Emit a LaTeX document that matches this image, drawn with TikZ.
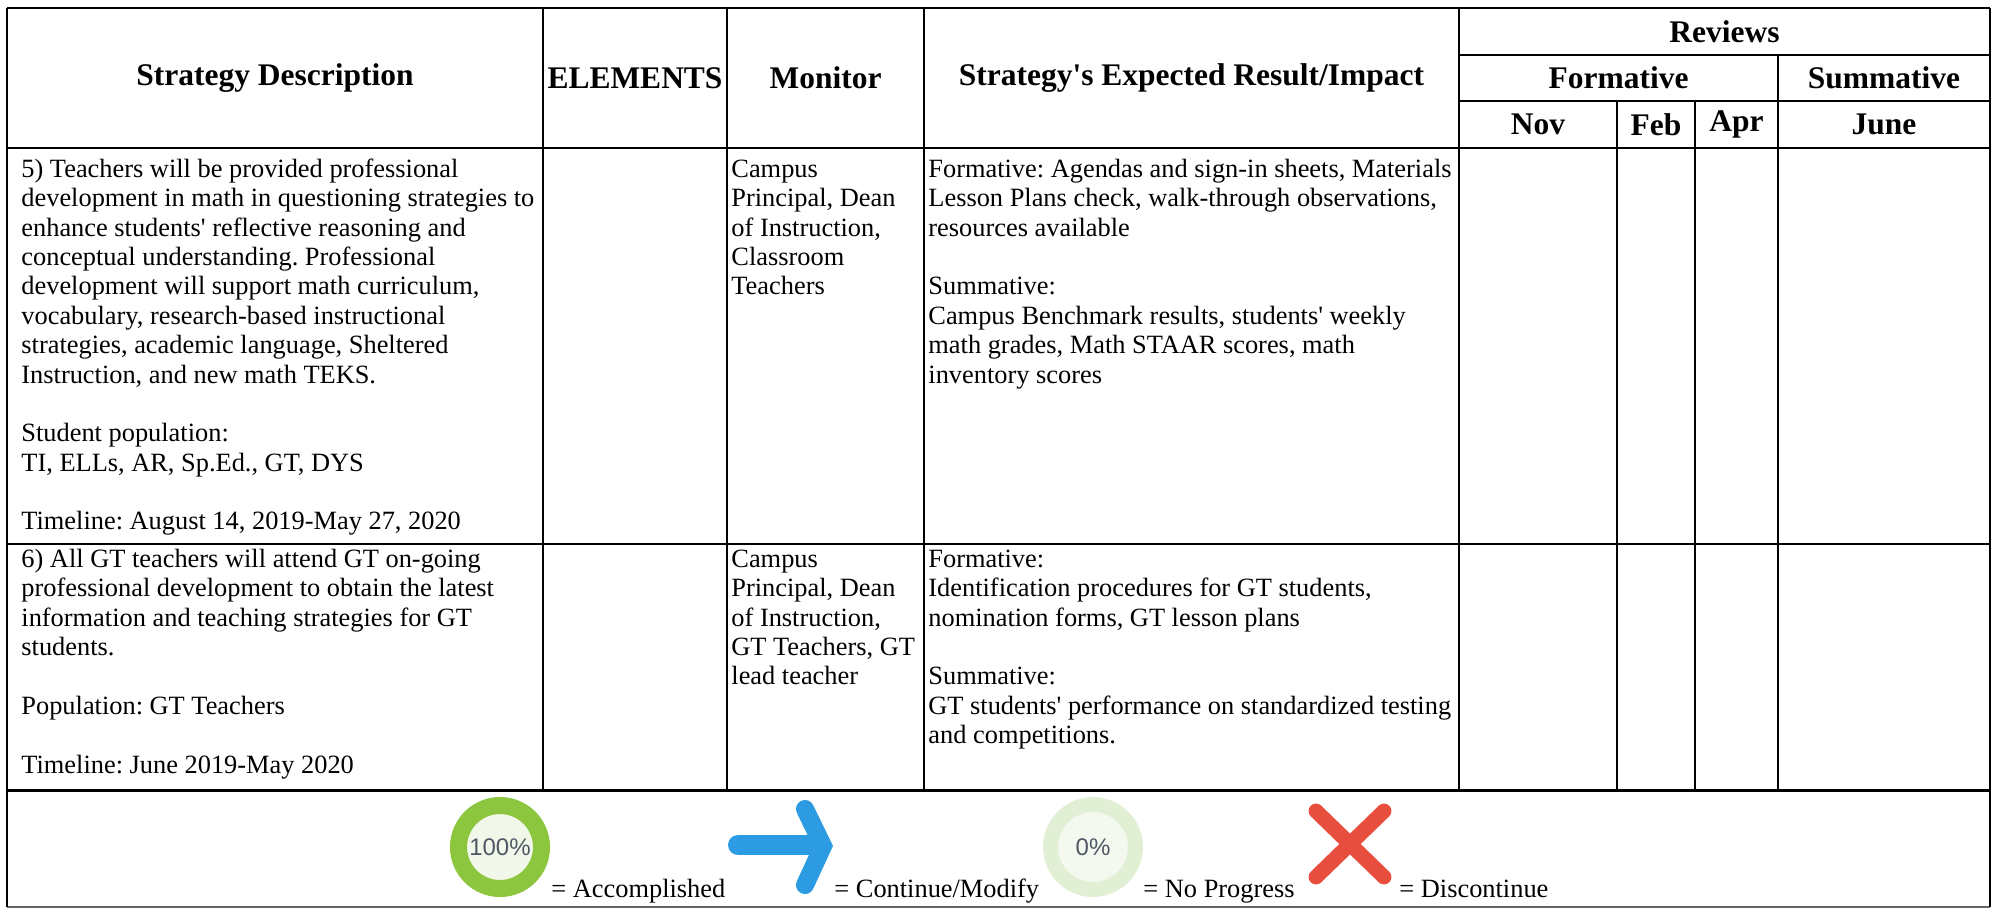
\documentclass[tikz,border=0pt]{standalone}
\usepackage{fontspec}
\setmainfont{Liberation Serif}
\newfontfamily\iconfont{Liberation Sans}
\frenchspacing
\definecolor{donegreen}{HTML}{8CC63F}
\definecolor{donefill}{HTML}{F1F8EA}
\definecolor{noring}{HTML}{E1EFD5}
\definecolor{nofill}{HTML}{F3F9EE}
\definecolor{goblue}{HTML}{2D9BE2}
\definecolor{stopred}{HTML}{E84E3D}
\definecolor{ringtext}{HTML}{505866}
\newcommand{\apos}{\textquotesingle}
\begin{document}
\begin{tikzpicture}[x=0.47pt,y=-0.47pt]

    \tikzset{
      rule/.style={line width=1pt, black},
      headtext/.style={font=\fontsize{14.8}{17}\selectfont\bfseries, anchor=center, inner sep=0pt},
      celltext/.style={font=\fontsize{12.4}{13.8}\selectfont, anchor=north west, align=left, inner sep=0pt},
      keytext/.style={font=\fontsize{12.4}{13.8}\selectfont, anchor=base west, inner sep=0pt},
      ringlabel/.style={font=\iconfont\fontsize{11.3}{13}\selectfont, text=ringtext, inner sep=0pt},
    }
    \useasboundingbox (0,0) rectangle (1995,908);

    % table rules
    \draw[rule] (7,8)--(1990,8);
    \draw[rule] (1459,55)--(1990,55);
    \draw[rule] (1459,101)--(1990,101);
    \draw[rule] (7,148)--(1990,148);
    \draw[rule] (7,544)--(1990,544);
    \draw[line width=1.4pt] (7,790)--(1990,790);
    \draw[line width=1pt, black!60] (7,907)--(1990,907);
    \draw[rule] (7,8)--(7,907);
    \draw[rule] (1990,8)--(1990,907);
    \draw[rule] (543,8)--(543,790);
    \draw[rule] (727,8)--(727,790);
    \draw[rule] (924,8)--(924,790);
    \draw[rule] (1459,8)--(1459,790);
    \draw[rule] (1617,101)--(1617,790);
    \draw[rule] (1695,101)--(1695,790);
    \draw[rule] (1778,55)--(1778,790);

    % header
    \node[headtext] (hdesc) at (275,78) {Strategy Description};
    \node[headtext] (helem) at (635,78) {ELEMENTS};
    \node[headtext] (hmon) at (825.5,78) {Monitor};
    \node[headtext] (himpact) at (1191.5,78) {Strategy\apos s Expected Result/Impact};
    \node[headtext] (hrev) at (1724.5,31.5) {Reviews};
    \node[headtext] (hform) at (1618.5,78) {Formative};
    \node[headtext] (hsumm) at (1884,78) {Summative};
    \node[headtext] (hnov) at (1538,124.5) {Nov};
    \node[headtext] (hfeb) at (1656,124.5) {Feb};
    \node[headtext] (hapr) at (1736.5,124.5) {Apr};
    \node[headtext] (hjune) at (1884,124.5) {June};

    % strategy 5
    \node[celltext] (desc5) at (21,156.5) {\strut 5) Teachers will be provided professional\\
      development in math in questioning strategies to\\
      enhance students\apos\ reflective reasoning and\\
      conceptual understanding. Professional\\
      development will support math curriculum,\\
      vocabulary, research-based instructional\\
      strategies, academic language, Sheltered\\
      Instruction, and new math TEKS.\\[13.8pt]
      Student population:\\
      TI, ELLs, AR, Sp.Ed., GT, DYS\\[13.8pt]
      Timeline: August 14, 2019-May 27, 2020};
    \node[celltext] (mon5) at (731,156.5) {\strut Campus\\
      Principal, Dean\\
      of Instruction,\\
      Classroom\\
      Teachers};
    \node[celltext] (impact5) at (928,156.5) {\strut Formative: Agendas and sign-in sheets, Materials\\
      Lesson Plans check, walk-through observations,\\
      resources available\\[13.8pt]
      Summative:\\
      Campus Benchmark results, students\apos\ weekly\\
      math grades, Math STAAR scores, math\\
      inventory scores};

    % strategy 6
    \node[celltext] (desc6) at (21,546.5) {\strut 6) All GT teachers will attend GT on-going\\
      professional development to obtain the latest\\
      information and teaching strategies for GT\\
      students.\\[13.8pt]
      Population: GT Teachers\\[13.8pt]
      Timeline: June 2019-May 2020};
    \node[celltext] (mon6) at (731,546.5) {\strut Campus\\
      Principal, Dean\\
      of Instruction,\\
      GT Teachers, GT\\
      lead teacher};
    \node[celltext] (impact6) at (928,546.5) {\strut Formative:\\
      Identification procedures for GT students,\\
      nomination forms, GT lesson plans\\[13.8pt]
      Summative:\\
      GT students\apos\ performance on standardized testing\\
      and competitions.};

    % legend
    \draw[donegreen, line width=8pt, fill=donefill] (500,847) circle (41.5);
    \node[ringlabel] (done) at (500,847) {100\%};
    \node[keytext] (donekey) at (551,897) {= Accomplished};

    \draw[goblue, line width=9.4pt, line cap=round] (738,845)--(818,845);
    \draw[goblue, line width=8.5pt, line cap=round, line join=miter] (805,809)--(823,846)--(805,885);
    \node[keytext] (gokey) at (834,897) {= Continue/Modify};

    \draw[noring, line width=7pt, fill=nofill] (1093,847) circle (42.5);
    \node[ringlabel] (none) at (1093,847) {0\%};
    \node[keytext] (nonekey) at (1143,897) {= No Progress};

    \draw[stopred, line width=7pt, line cap=round] (1316,811)--(1384,877);
    \draw[stopred, line width=7pt, line cap=round] (1384,811)--(1316,877);
    \node[keytext] (stopkey) at (1399,897) {= Discontinue};

\end{tikzpicture}
\end{document}
